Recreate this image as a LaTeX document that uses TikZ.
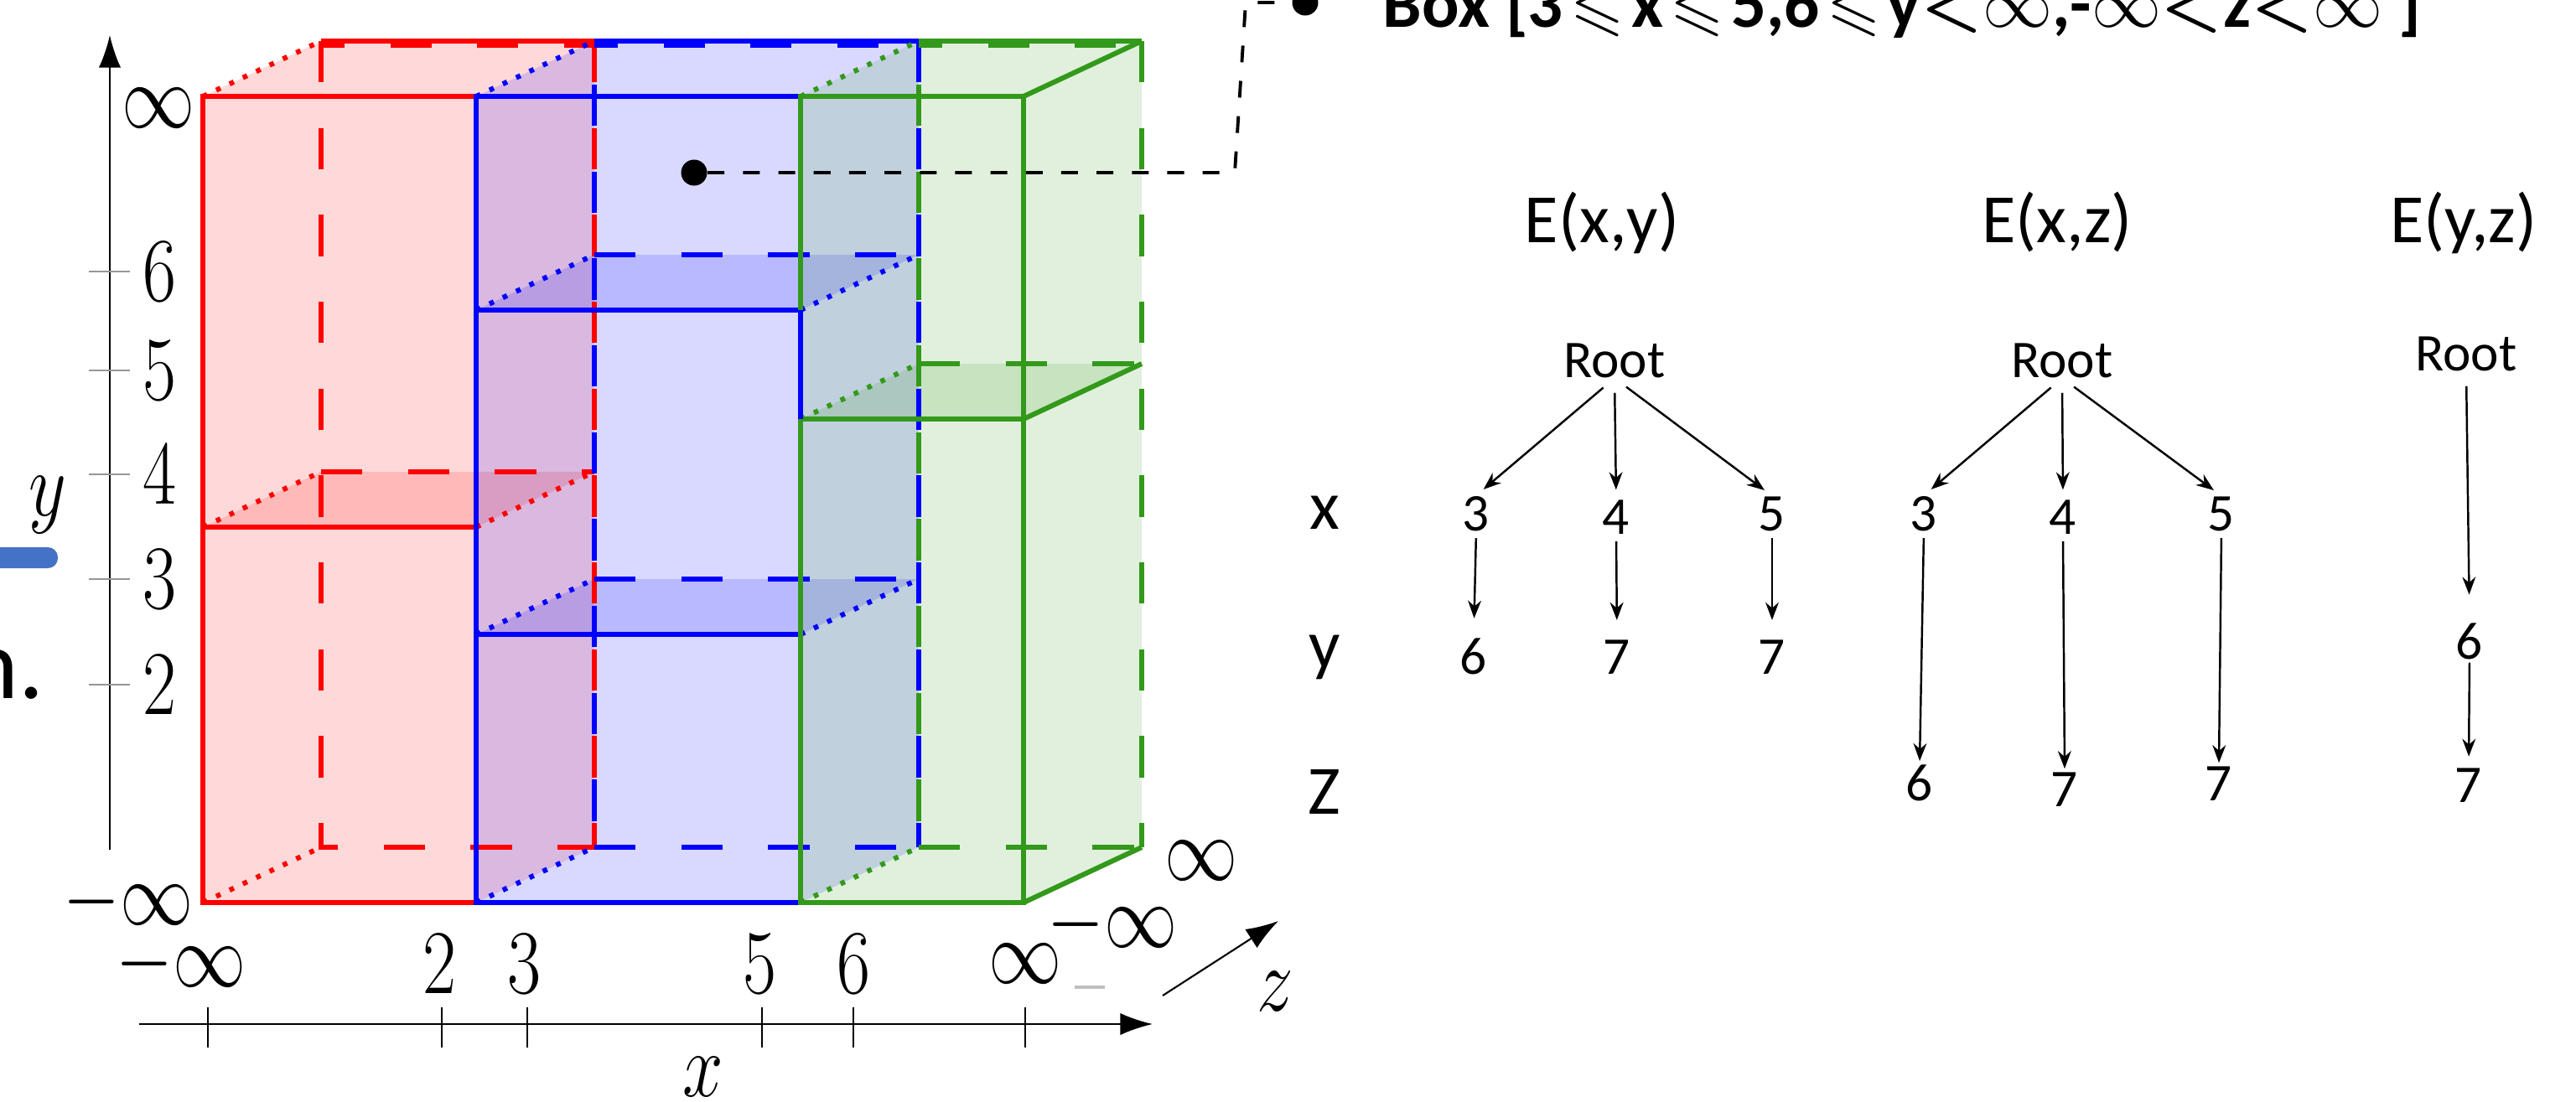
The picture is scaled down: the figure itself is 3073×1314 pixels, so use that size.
\RequirePackage{fix-cm}
\documentclass[tikz,border=0pt]{standalone}
\usepackage{amsmath}
\usepackage{amssymb}
\usepackage{graphicx}
\usepackage[no-math]{fontspec}
\setmainfont{Carlito}
\usetikzlibrary{arrows.meta}
\definecolor{boxred}{RGB}{255,0,0}
\definecolor{boxblue}{RGB}{0,0,255}
\definecolor{boxgreen}{RGB}{51,153,26}
\definecolor{tickgray}{RGB}{150,150,150}
\definecolor{slideblue}{RGB}{68,114,196}
\newcommand{\narrowmath}[1]{\scalebox{0.8}[1]{$#1$}}
\newcommand{\leqs}{\kern0.1em$\leqslant$\kern0.1em}
\newcommand{\lts}{$\boldsymbol{<}$}

\begin{document}
\begin{tikzpicture}[x=0.1mm, y=-0.1mm, >=Stealth,
    face/.style={fill opacity=0.15},
    edge/.style={line width=1.7pt},
    hidden/.style={line width=1.7pt, dash pattern=on 14pt off 15.5pt},
    depth/.style={line width=1.7pt, dash pattern=on 1.6pt off 3.4pt},
    axislabel/.style={font=\fontsize{31}{31}\selectfont, inner sep=0pt},
    title/.style={font=\fontsize{23.5}{23.5}\selectfont, inner sep=0pt, anchor=base},
    treenode/.style={font=\fontsize{18}{18}\selectfont, inner sep=0pt, anchor=base},
    treearrow/.style={-{Stealth[length=6pt,width=4.5pt]}, line width=0.7pt, shorten <=2.3pt, shorten >=3.2pt},
    pinpoint/.style={circle, fill=black, inner sep=0pt, minimum size=3.1mm}]
    \useasboundingbox (0,0) rectangle (3073,1314);

    % Slide leftovers
    \fill [slideblue, rounded corners=3.4pt] (-40,653) rectangle (69,678);
    \node [font=\fontsize{34}{34}\selectfont, anchor=base east, inner sep=0pt] (cut) at (53,833) {n.};

    % Faces
    \fill [boxred, face] (242,115) rectangle (568,1077);
    \fill [boxred, face] (242,115) -- (383,49) -- (709,49) -- (568,115) -- cycle;
    \fill [boxred, face] (568,115) -- (709,49) -- (709,1011) -- (568,1077) -- cycle;
    \fill [boxred, face] (242,629) -- (383,563) -- (709,563) -- (568,629) -- cycle;
    \fill [boxblue, face] (568,115) rectangle (955,1077);
    \fill [boxblue, face] (568,115) -- (709,49) -- (1096,49) -- (955,115) -- cycle;
    \fill [boxblue, face] (955,115) -- (1096,49) -- (1096,1011) -- (955,1077) -- cycle;
    \fill [boxblue, face] (568,370) -- (709,304) -- (1096,304) -- (955,370) -- cycle;
    \fill [boxblue, face] (568,757) -- (709,691) -- (1096,691) -- (955,757) -- cycle;
    \fill [boxgreen, face] (955,115) rectangle (1221,1077);
    \fill [boxgreen, face] (955,115) -- (1096,49) -- (1362,49) -- (1221,115) -- cycle;
    \fill [boxgreen, face] (1221,115) -- (1362,49) -- (1362,1011) -- (1221,1077) -- cycle;
    \fill [boxgreen, face] (955,500) -- (1096,434) -- (1362,434) -- (1221,500) -- cycle;

    % Red box
    \draw [boxred, hidden] (383,49) -- (383,1011) -- (709,1011);
    \draw [boxred, hidden] (709,49) -- (709,1011);
    \draw [boxred, hidden] (383,563) -- (709,563);
    \draw [boxred, hidden, dash phase=6pt] (383,54) -- (709,54);
    \draw [boxred, depth] (242,115) -- (383,49);
    \draw [boxred, depth] (242,1077) -- (383,1011);
    \draw [boxred, depth] (242,629) -- (383,563);
    \draw [boxred, depth] (568,629) -- (709,563);
    \draw [boxred, edge] (383,49) -- (709,49);
    \draw [boxred, edge] (242,115) rectangle (568,1077);
    \draw [boxred, edge] (242,629) -- (568,629);

    % Blue box
    \draw [boxblue, hidden, dash phase=14.7pt] (709,49) -- (709,1011);
    \draw [boxblue, hidden] (709,1011) -- (1096,1011);
    \draw [boxblue, hidden] (1096,49) -- (1096,1011);
    \draw [boxblue, hidden] (709,304) -- (1096,304);
    \draw [boxblue, hidden] (709,691) -- (1096,691);
    \draw [boxblue, hidden, dash phase=6pt] (709,54) -- (1096,54);
    \foreach \ya/\yb in {115/49, 370/304, 757/691, 1077/1011}
        \draw [boxblue, depth] (568,\ya) -- (709,\yb);
    \draw [boxblue, depth] (955,370) -- (1096,304);
    \draw [boxblue, depth] (955,757) -- (1096,691);
    \draw [boxblue, edge] (709,49) -- (1096,49);
    \draw [boxblue, edge] (568,115) rectangle (955,1077);
    \draw [boxblue, edge] (568,370) -- (955,370);
    \draw [boxblue, edge] (568,757) -- (955,757);

    % Green box
    \draw [boxgreen, hidden, dash phase=14.7pt] (1096,49) -- (1096,1011);
    \draw [boxgreen, hidden] (1096,1011) -- (1362,1011);
    \draw [boxgreen, hidden] (1362,49) -- (1362,1011);
    \draw [boxgreen, hidden] (1096,434) -- (1362,434);
    \draw [boxgreen, hidden, dash phase=6pt] (1096,54) -- (1362,54);
    \foreach \ya/\yb in {115/49, 500/434, 1077/1011}
        \draw [boxgreen, depth] (955,\ya) -- (1096,\yb);
    \draw [boxgreen, edge] (1096,49) -- (1362,49);
    \draw [boxgreen, edge] (955,115) rectangle (1221,1077);
    \draw [boxgreen, edge] (955,500) -- (1221,500);
    \foreach \ya/\yb in {115/49, 500/434, 1077/1011}
        \draw [boxgreen, edge] (1221,\ya) -- (1362,\yb);
    \draw [boxblue, edge] (955,370) -- (955,500);

    % y axis
    \draw [line width=0.6pt, -{Latex[length=11pt,width=7.5pt]}] (131,1014) -- (131,42);
    \foreach \yy/\lab in {324/6, 442/5, 566/4, 691/3, 817/2} {
        \draw [tickgray, line width=0.7pt] (106,\yy) -- (155,\yy);
        \node [axislabel] (ytick\lab) at (190,\yy) {\narrowmath{\lab}};
    }
    \node [axislabel] (ytop) at (189,129) {\narrowmath{\infty}};
    \node [axislabel] (ybot) at (153,1076) {\narrowmath{-\infty}};
    \node [axislabel] (ylab) at (57,603) {\narrowmath{y}};

    % x axis
    \draw [line width=0.6pt, -{Latex[length=11pt,width=7.5pt]}] (166,1222) -- (1375,1222);
    \foreach \xx in {248, 527, 629, 909, 1018, 1223}
        \draw [line width=0.5pt] (\xx,1202) -- (\xx,1250);
    \node [axislabel] (xm) at (216,1150) {\narrowmath{-\infty}};
    \foreach \xx/\lab in {524/2, 625/3, 906/5, 1018/6}
        \node [axislabel] (xtick\lab) at (\xx,1150) {\narrowmath{\lab}};
    \node [axislabel] (xp) at (1223,1150) {\narrowmath{\infty}};
    \node [axislabel] (xlab) at (839,1285) {\narrowmath{x}};

    % z axis
    \draw [line width=0.6pt, -{Latex[length=11pt,width=7.5pt]}] (1387,1188) -- (1525,1099);
    \node [axislabel] (zp) at (1433,1027) {\narrowmath{\infty}};
    \node [axislabel] (zm) at (1327,1103) {\narrowmath{-\infty}};
    \node [axislabel] (zlab) at (1521,1183) {\narrowmath{z}};
    \draw [gray!50, line width=1pt] (1282,1178) -- (1318,1178);

    % Callout
    \node [pinpoint] (pinA) at (828,206) {};
    \node [pinpoint] (pinB) at (1557,3) {};
    \draw [line width=1.1pt, dash pattern=on 5.7pt off 6.3pt, rounded corners=1pt]
        (pinA) -- (1473,206) -- (1486,3) -- (pinB);
    \node [font=\fontsize{23.6}{23.6}\selectfont\bfseries, anchor=base west, inner sep=0pt] (boxtext) at (1649,32)
        {Box [3\leqs x\leqs 5,6\leqs y\lts$\infty$,-$\infty$\lts z\lts$\infty$ ]};

    % Row labels
    \node [title] (rx) at (1580,631) {x};
    \node [title] (ry) at (1580,797) {y};
    \node [title] (rz) at (1580,971) {Z};

    % E(x,y)
    \node [title] (txy) at (1911,289) {E(x,y)};
    \node [treenode] (r1) at (1926,450) {Root};
    \node [treenode] (a3) at (1761,633) {3};
    \node [treenode] (a4) at (1928,637) {4};
    \node [treenode] (a5) at (2114,633) {5};
    \node [treenode] (b6) at (1758,804) {6};
    \node [treenode] (b7) at (1929,804) {7};
    \node [treenode] (c7) at (2114,804) {7};
    \foreach \n in {a3, a4, a5}
        \draw [treearrow, shorten <=5pt] (r1.south) -- (\n.north);
    \foreach \a/\b in {a3/b6, a4/b7, a5/c7}
        \draw [treearrow, shorten >=6.5pt] (\a.south) -- (\b.north);

    % E(x,z)
    \node [title] (txz) at (2454,289) {E(x,z)};
    \node [treenode] (r2) at (2460,450) {Root};
    \node [treenode] (d3) at (2295,633) {3};
    \node [treenode] (d4) at (2461,637) {4};
    \node [treenode] (d5) at (2650,633) {5};
    \node [treenode] (e6) at (2290,955) {6};
    \node [treenode] (e7) at (2463,962) {7};
    \node [treenode] (f7) at (2647,955) {7};
    \foreach \n in {d3, d4, d5}
        \draw [treearrow, shorten <=5pt] (r2.south) -- (\n.north);
    \foreach \a/\b in {d3/e6, d4/e7, d5/f7}
        \draw [treearrow, shorten >=1pt] (\a.south) -- (\b.north);

    % E(y,z)
    \node [title] (tyz) at (2939,289) {E(y,z)};
    \node [treenode] (r3) at (2942,442) {Root};
    \node [treenode] (g6) at (2946,786) {6};
    \node [treenode] (g7) at (2945,957) {7};
    \draw [treearrow, shorten <=5pt, shorten >=9.4pt] (r3.south) -- (g6.north);
    \draw [treearrow, shorten <=1pt, shorten >=3.7pt] (g6.south) -- (g7.north);
\end{tikzpicture}
\end{document}
